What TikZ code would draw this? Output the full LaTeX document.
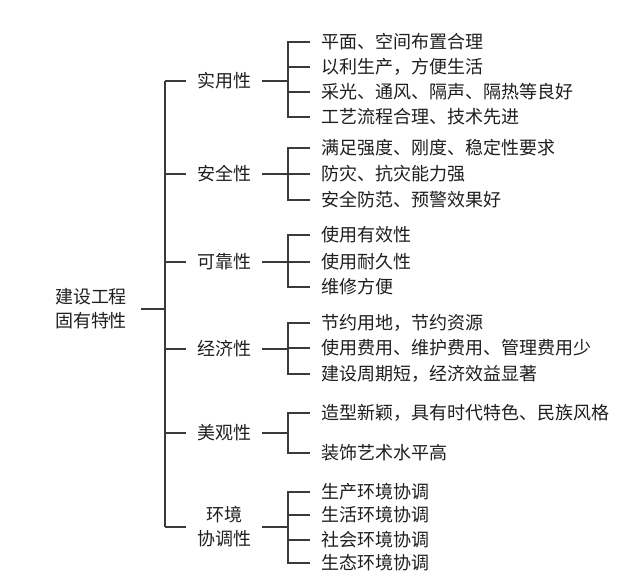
\documentclass[tikz,border=0pt]{standalone}
\usepackage{fontspec}
\setmainfont{Noto Sans CJK SC}
\usetikzlibrary{calc}
\definecolor{ink}{HTML}{1E1E1E}
\definecolor{rule}{HTML}{3A3A3A}

\begin{document}
\begin{tikzpicture}[x=1pt,y=-1pt,
  cat/.style={inner xsep=11pt,inner ysep=2pt,align=center,text=ink,font=\fontsize{18}{24}\selectfont},
  leaf/.style={anchor=west,inner xsep=11pt,inner ysep=2pt,text=ink,font=\fontsize{18}{24}\selectfont},
  link/.style={draw=rule,line width=1.1pt}]
  \useasboundingbox (0,0) rectangle (630,585);

  \node[cat,inner xsep=14pt] (root) at (91,309) {建设工程\\固有特性};
  \coordinate (spine) at (165,309);
  \coordinate (fork) at (288,0);

  \node[cat] (use) at (224,81) {实用性};
  \node[leaf] (use1) at (310,42) {平面、空间布置合理};
  \node[leaf] (use2) at (310,67) {以利生产，方便生活};
  \node[leaf] (use3) at (310,92) {采光、通风、隔声、隔热等良好};
  \node[leaf] (use4) at (310,117) {工艺流程合理、技术先进};

  \node[cat] (safe) at (224,174) {安全性};
  \node[leaf] (safe1) at (310,148) {满足强度、刚度、稳定性要求};
  \node[leaf] (safe2) at (310,174) {防灾、抗灾能力强};
  \node[leaf] (safe3) at (310,200) {安全防范、预警效果好};

  \node[cat] (rely) at (224,262) {可靠性};
  \node[leaf] (rely1) at (310,235) {使用有效性};
  \node[leaf] (rely2) at (310,262) {使用耐久性};
  \node[leaf] (rely3) at (310,287) {维修方便};

  \node[cat] (econ) at (224,349) {经济性};
  \node[leaf] (econ1) at (310,323) {节约用地，节约资源};
  \node[leaf] (econ2) at (310,348) {使用费用、维护费用、管理费用少};
  \node[leaf] (econ3) at (310,374) {建设周期短，经济效益显著};

  \node[cat] (look) at (224,433) {美观性};
  \node[leaf] (look1) at (310,413) {造型新颖，具有时代特色、民族风格};
  \node[leaf] (look2) at (310,453) {装饰艺术水平高};

  \node[cat] (env) at (224,527) {环境\\协调性};
  \node[leaf] (env1) at (310,492) {生产环境协调};
  \node[leaf] (env2) at (310,515) {生活环境协调};
  \node[leaf] (env3) at (310,540) {社会环境协调};
  \node[leaf] (env4) at (310,563) {生态环境协调};

  % root to spine
  \draw[link] (root) -- (spine);
  \draw[link] (spine |- use) -- (spine |- env);
  \draw[link] (spine |- use) -- (use);
  \draw[link] (spine |- safe) -- (safe);
  \draw[link] (spine |- rely) -- (rely);
  \draw[link] (spine |- econ) -- (econ);
  \draw[link] (spine |- look) -- (look);
  \draw[link] (spine |- env) -- (env);

  % brackets to the leaves
  \draw[link] (use) -- (fork |- use);
  \draw[link] (use1.west) -- (fork |- use1) -- (fork |- use4) -- (use4.west);
  \draw[link] (fork |- use2) -- (use2.west) (fork |- use3) -- (use3.west);

  \draw[link] (safe) -- (fork |- safe);
  \draw[link] (safe1.west) -- (fork |- safe1) -- (fork |- safe3) -- (safe3.west);
  \draw[link] (fork |- safe2) -- (safe2.west);

  \draw[link] (rely) -- (fork |- rely);
  \draw[link] (rely1.west) -- (fork |- rely1) -- (fork |- rely3) -- (rely3.west);
  \draw[link] (fork |- rely2) -- (rely2.west);

  \draw[link] (econ) -- (fork |- econ);
  \draw[link] (econ1.west) -- (fork |- econ1) -- (fork |- econ3) -- (econ3.west);
  \draw[link] (fork |- econ2) -- (econ2.west);

  \draw[link] (look) -- (fork |- look);
  \draw[link] (look1.west) -- (fork |- look1) -- (fork |- look2) -- (look2.west);

  \draw[link] (env) -- (fork |- env);
  \draw[link] (env1.west) -- (fork |- env1) -- (fork |- env4) -- (env4.west);
  \draw[link] (fork |- env2) -- (env2.west) (fork |- env3) -- (env3.west);
\end{tikzpicture}
\end{document}
